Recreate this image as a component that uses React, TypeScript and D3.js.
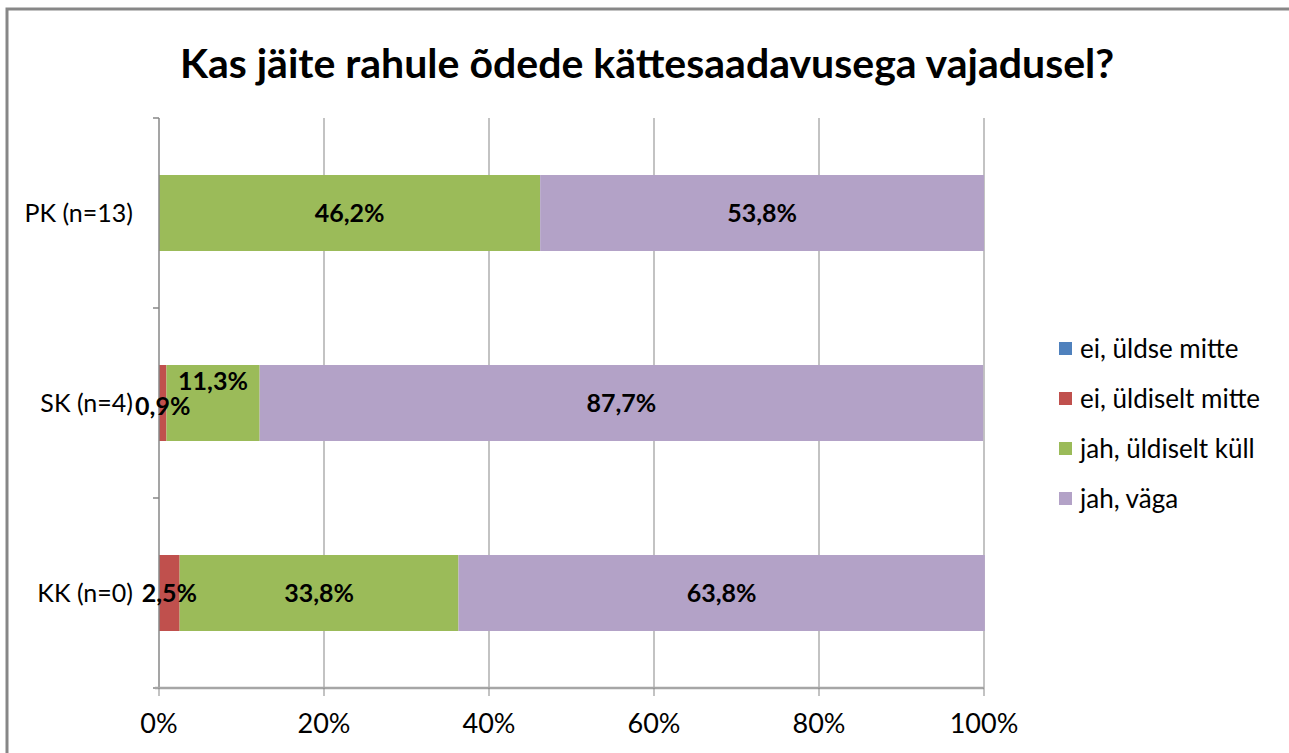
import React, { useEffect, useRef } from 'react';
import * as d3 from 'd3';

const categories = ['PK (n=13)', 'SK (n=4)', 'KK (n=0)'];
const seriesNames = ['ei, üldse mitte', 'ei, üldiselt mitte', 'jah, üldiselt küll', 'jah, väga'];
const seriesColors = ['#4F81BD', '#C0504D', '#9BBB59', '#B3A2C7'];

// percentages per category, in series order
const eiUldseMitte = [0, 0, 0];
const eiUldiseltMitte = [0, 0.9, 2.5];
const jahUldiseltKull = [46.2, 11.3, 33.8];
const jahVaga = [53.8, 87.7, 63.8];

const xTicks = [0, 20, 40, 60, 80, 100];

const FONT = 'Lato, "Open Sans", sans-serif';

const App: React.FC = () => {
  const svgRef = useRef<SVGSVGElement | null>(null);

  useEffect(() => {
    if (!svgRef.current) return;
    const width = 1289;
    const height = 753;
    const margin = { top: 118, right: 305, bottom: 65, left: 159 };

    const svg = d3.select(svgRef.current);
    svg.selectAll('*').remove();
    svg.attr('width', width).attr('height', height).attr('viewBox', `0 0 ${width} ${height}`);

    // chart frame (only left/top edges visible)
    svg.append('rect')
      .attr('x', 7).attr('y', 9)
      .attr('width', width + 20).attr('height', height + 20)
      .attr('fill', '#fff')
      .attr('stroke', '#878787')
      .attr('stroke-width', 3);

    svg.append('text')
      .attr('x', 647).attr('y', 78)
      .attr('text-anchor', 'middle')
      .attr('font-family', FONT)
      .attr('font-weight', 'bold')
      .attr('font-size', 41)
      .attr('fill', '#000')
      .text('Kas jäite rahule õdede kättesaadavusega vajadusel?');

    const seriesValues = [eiUldseMitte, eiUldiseltMitte, jahUldiseltKull, jahVaga];
    const rows = categories.map((c, i) => {
      const r: any = { cat: c };
      seriesNames.forEach((s, j) => { r[s] = seriesValues[j][i]; });
      return r;
    });
    const stacked = d3.stack<any>().keys(seriesNames)(rows);

    const x = d3.scaleLinear().domain([0, 100]).range([margin.left, width - margin.right]);
    const y = d3.scaleBand<string>()
      .domain(categories)
      .range([margin.top, height - margin.bottom])
      .paddingInner(0.6)
      .paddingOuter(0.3);

    const y0 = margin.top;
    const y1 = height - margin.bottom;
    const chart = svg.append('g');

    // vertical gridlines
    chart.selectAll('line.grid')
      .data(xTicks.slice(1))
      .enter()
      .append('line')
      .attr('x1', d => x(d)).attr('x2', d => x(d))
      .attr('y1', y0).attr('y2', y1)
      .attr('stroke', '#878787')
      .attr('stroke-width', 1);

    // bars
    stacked.forEach((layer, j) => {
      chart.append('g')
        .selectAll('rect')
        .data(layer)
        .enter()
        .append('rect')
        .attr('x', d => x(d[0]))
        .attr('width', d => x(d[1]) - x(d[0]))
        .attr('y', d => y(d.data.cat)!)
        .attr('height', y.bandwidth())
        .attr('fill', seriesColors[j]);
    });

    // y axis
    chart.append('line')
      .attr('x1', x(0)).attr('x2', x(0))
      .attr('y1', y0).attr('y2', y1)
      .attr('stroke', '#878787').attr('stroke-width', 1.5);
    const boundaries = categories.map(c => y(c)! - y.step() * 0.3).concat([y1]);
    chart.selectAll('line.ytick')
      .data(boundaries)
      .enter()
      .append('line')
      .attr('x1', x(0) - 6).attr('x2', x(0))
      .attr('y1', d => d).attr('y2', d => d)
      .attr('stroke', '#878787').attr('stroke-width', 1.5);

    chart.selectAll('text.cat')
      .data(categories)
      .enter()
      .append('text')
      .attr('x', 133)
      .attr('y', d => y(d)! + y.bandwidth() / 2)
      .attr('dy', '0.35em')
      .attr('text-anchor', 'end')
      .attr('font-family', FONT)
      .attr('font-size', 25)
      .attr('fill', '#000')
      .text(d => d);

    // x axis
    chart.append('line')
      .attr('x1', x(0) - 4).attr('x2', x(100))
      .attr('y1', y1).attr('y2', y1)
      .attr('stroke', '#A6A6A6').attr('stroke-width', 2.5);
    chart.selectAll('line.xtick')
      .data(xTicks)
      .enter()
      .append('line')
      .attr('x1', d => x(d)).attr('x2', d => x(d))
      .attr('y1', y1).attr('y2', y1 + 8)
      .attr('stroke', '#878787').attr('stroke-width', 1);
    chart.selectAll('text.xtick')
      .data(xTicks)
      .enter()
      .append('text')
      .attr('x', d => x(d))
      .attr('y', 733)
      .attr('text-anchor', 'middle')
      .attr('font-family', FONT)
      .attr('font-size', 27)
      .attr('fill', '#000')
      .text(d => `${d}%`);

    // data labels (Excel nudged the small SK green label up)
    const labelShift: Record<string, number> = {
      'SK (n=4)|jah, üldiselt küll': -22,
      'SK (n=4)|ei, üldiselt mitte': 3,
    };
    stacked.forEach(layer => {
      chart.append('g')
        .selectAll('text')
        .data(layer.filter(d => d[1] - d[0] > 0))
        .enter()
        .append('text')
        .attr('x', d => (x(d[0]) + x(d[1])) / 2)
        .attr('y', d => y(d.data.cat)! + y.bandwidth() / 2 + (labelShift[`${d.data.cat}|${layer.key}`] || 0))
        .attr('dy', '0.35em')
        .attr('text-anchor', 'middle')
        .attr('font-family', FONT)
        .attr('font-weight', 'bold')
        .attr('font-size', 25)
        .attr('fill', '#000')
        .text(d => `${(d[1] - d[0]).toFixed(1).replace('.', ',')}%`);
    });

    // legend
    const legend = svg.append('g').attr('transform', 'translate(1059, 349)');
    seriesNames.forEach((s, i) => {
      const g = legend.append('g').attr('transform', `translate(0, ${i * 50})`);
      g.append('rect')
        .attr('x', 0).attr('y', -7)
        .attr('width', 13).attr('height', 13)
        .attr('fill', seriesColors[i]);
      g.append('text')
        .attr('x', 21).attr('y', 0)
        .attr('dy', '0.35em')
        .attr('font-family', FONT)
        .attr('font-size', 26)
        .attr('fill', '#000')
        .text(s);
    });
  }, []);

  return (
    <div style={{ position: 'absolute', left: 0, top: 0 }}>
      <svg ref={svgRef} style={{ display: 'block' }} />
    </div>
  );
};

export default App;
